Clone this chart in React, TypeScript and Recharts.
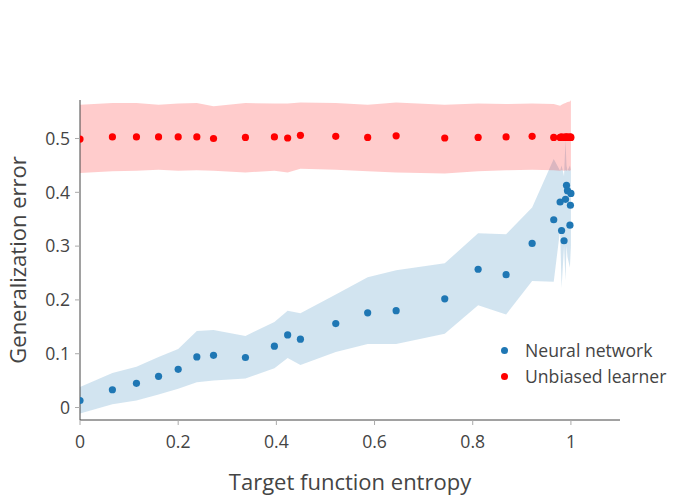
import React from 'react';
import { ComposedChart, Area, Scatter, XAxis, YAxis, Legend } from 'recharts';

// target function entropy (shared x positions of both series)
const entropy = [
  0, 0.066, 0.115, 0.16, 0.2, 0.238, 0.272, 0.337, 0.396, 0.423, 0.449, 0.521, 0.586, 0.644,
  0.743, 0.811, 0.868, 0.921, 0.965, 0.978, 0.981, 0.986, 0.989, 0.991, 0.993, 0.998, 0.999, 1.0,
];

const nnError = [
  0.013, 0.033, 0.045, 0.058, 0.071, 0.094, 0.097, 0.093, 0.114, 0.135, 0.127, 0.156, 0.176, 0.18,
  0.202, 0.257, 0.247, 0.305, 0.349, 0.382, 0.329, 0.31, 0.387, 0.413, 0.403, 0.339, 0.376, 0.398,
];
const nnLower = [
  -0.011, 0.006, 0.013, 0.024, 0.035, 0.047, 0.05, 0.054, 0.073, 0.092, 0.079, 0.103, 0.118, 0.118,
  0.137, 0.19, 0.173, 0.235, 0.234, 0.33, 0.222, 0.3, 0.236, 0.3, 0.28, 0.26, 0.3, 0.262,
];
const nnUpper = [
  0.038, 0.064, 0.076, 0.094, 0.109, 0.142, 0.144, 0.133, 0.159, 0.18, 0.175, 0.21, 0.242, 0.255,
  0.268, 0.324, 0.322, 0.372, 0.462, 0.44, 0.45, 0.43, 0.497, 0.45, 0.44, 0.45, 0.44, 0.45,
];

const ubError = [
  0.499, 0.503, 0.503, 0.503, 0.503, 0.503, 0.5, 0.502, 0.503, 0.501, 0.506, 0.504, 0.502, 0.505,
  0.501, 0.502, 0.503, 0.504, 0.502, 0.502, 0.503, 0.502, 0.503, 0.502, 0.503, 0.502, 0.503, 0.502,
];
const ubLower = [
  0.436, 0.439, 0.44, 0.442, 0.44, 0.441, 0.44, 0.437, 0.44, 0.437, 0.444, 0.442, 0.439, 0.437,
  0.435, 0.439, 0.441, 0.442, 0.441, 0.44, 0.441, 0.44, 0.441, 0.44, 0.441, 0.44, 0.441, 0.441,
];
const ubUpper = [
  0.563, 0.566, 0.566, 0.563, 0.565, 0.566, 0.56, 0.566, 0.565, 0.565, 0.567, 0.566, 0.563, 0.567,
  0.563, 0.565, 0.564, 0.565, 0.564, 0.561, 0.563, 0.565, 0.566, 0.567, 0.568, 0.569, 0.57, 0.571,
];

const xTicks = [0, 0.2, 0.4, 0.6, 0.8, 1];
const yTicks = [0, 0.1, 0.2, 0.3, 0.4, 0.5];

const BLUE = '#1f77b4';
const RED = '#ff0000';
const FONT = '"Open Sans", sans-serif';
const TEXT = '#444';
const TICK_FONT = 17.6;
const TITLE_FONT = 22;

const table = entropy.map((x, i) => ({
  x,
  nn: nnError[i],
  ub: ubError[i],
  nnBand: [nnLower[i], nnUpper[i]],
  ubBand: [ubLower[i], ubUpper[i]],
}));

const dot = (color: string) => (p: any) => <circle cx={p.cx} cy={p.cy} r={3.6} fill={color} />;

function LegendBox({ payload }: any) {
  // bands are drawn without a legend entry
  const items = (payload || []).filter((e: any) => e.type !== 'none');
  return (
    <div style={{ fontFamily: FONT, fontSize: TICK_FONT, color: TEXT }}>
      {items.map((e: any) => (
        <div key={e.value} style={{ display: 'flex', alignItems: 'center', height: 26 }}>
          <span
            style={{ width: 7, height: 7, borderRadius: '50%', background: e.color, marginRight: 17 }}
          />
          {e.value}
        </div>
      ))}
    </div>
  );
}

export default function App() {
  return (
    <div style={{ position: 'absolute', left: 0, top: 0, background: '#fff' }}>
      <ComposedChart
        width={700}
        height={500}
        data={table}
        margin={{ top: 100, right: 80, bottom: 0, left: 0 }}
      >
        <XAxis
          dataKey="x"
          type="number"
          domain={[0, 1.1]}
          allowDataOverflow
          ticks={xTicks}
          height={80}
          tickSize={5}
          tickMargin={11}
          stroke="#444"
          tickLine={{ stroke: '#aaa' }}
          tick={{ fill: TEXT, fontSize: TICK_FONT, fontFamily: FONT }}
          label={{
            content: ({ viewBox }: any) => (
              <text
                x={viewBox.x + viewBox.width / 2}
                y={viewBox.y + 70}
                textAnchor="middle"
                fill={TEXT}
                fontSize={TITLE_FONT}
                fontFamily={FONT}
              >
                Target function entropy
              </text>
            ),
          }}
        />
        <YAxis
          type="number"
          domain={[-0.0232, 0.5716]}
          allowDataOverflow
          ticks={yTicks}
          width={80}
          tickSize={5}
          tickMargin={5}
          stroke="#444"
          tickLine={{ stroke: '#aaa' }}
          tick={{ fill: TEXT, fontSize: TICK_FONT, fontFamily: FONT }}
          label={{
            content: ({ viewBox }: any) => {
              const cx = viewBox.x + 26;
              const cy = viewBox.y + viewBox.height / 2;
              return (
                <text
                  x={cx}
                  y={cy}
                  transform={`rotate(-90 ${cx} ${cy})`}
                  textAnchor="middle"
                  fill={TEXT}
                  fontSize={TITLE_FONT}
                  fontFamily={FONT}
                >
                  Generalization error
                </text>
              );
            },
          }}
        />
        <Area
          dataKey="nnBand"
          type="linear"
          stroke="none"
          fill="rgba(31,119,180,0.2)"
          fillOpacity={1}
          legendType="none"
          dot={false}
          activeDot={false}
          isAnimationActive={false}
        />
        <Area
          dataKey="ubBand"
          type="linear"
          stroke="none"
          fill="rgba(255,0,0,0.2)"
          fillOpacity={1}
          legendType="none"
          dot={false}
          activeDot={false}
          isAnimationActive={false}
        />
        <Scatter
          name="Neural network"
          data={table}
          dataKey="nn"
          fill={BLUE}
          shape={dot(BLUE)}
          isAnimationActive={false}
        />
        <Scatter
          name="Unbiased learner"
          data={table}
          dataKey="ub"
          fill={RED}
          shape={dot(RED)}
          isAnimationActive={false}
        />
        <Legend
          layout="vertical"
          align="center"
          verticalAlign="middle"
          content={<LegendBox />}
          wrapperStyle={{ left: 501, top: 337, width: 'auto' }}
        />
      </ComposedChart>
    </div>
  );
}
